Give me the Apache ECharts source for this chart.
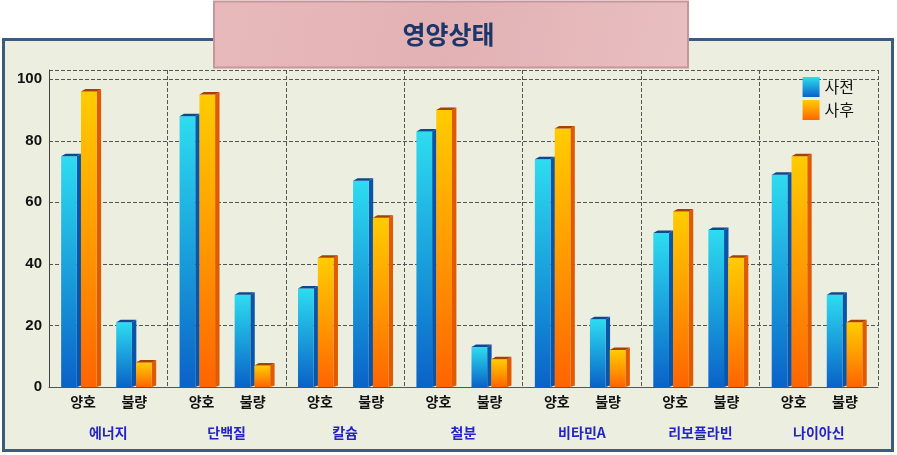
<!DOCTYPE html>
<html>
<head>
<meta charset="utf-8">
<script src="https://cdn.jsdelivr.net/npm/echarts@6/dist/echarts.min.js"></script>
<style>
html,body{margin:0;padding:0;background:#fff;}
#c{width:897px;height:455px;}
</style>
</head>
<body>
<div id="c"></div>
<script>
const groups = ['에너지','단백질','칼슘','철분','비타민A','리보플라빈','나이아신'];
const statuses = ['양호','불량'];
const seriesNames = ['사전','사후'];
const before = [75, 21, 88, 30, 32, 67, 83, 13, 74, 22, 50, 51, 69, 30];
const after  = [96, 8, 95, 7, 42, 55, 90, 9, 84, 12, 57, 42, 75, 21];
const yTicks = [0, 20, 40, 60, 80, 100];

const categories = [];
groups.forEach(() => statuses.forEach(s => categories.push(s)));

const G = echarts.graphic;
const styles = [
  { front: new G.LinearGradient(0,0,0,1,[{offset:0,color:'#2edcf0'},{offset:0.5,color:'#1aa0dc'},{offset:1,color:'#0a62c8'}]),
    side: '#0a55a8', top: '#0b4a90' },
  { front: new G.LinearGradient(0,0,0,1,[{offset:0,color:'#ffcc00'},{offset:0.5,color:'#ff9a00'},{offset:1,color:'#ff6400'}]),
    side: '#e05a00', top: '#a84000' }
];

function makeRender(si) {
  return function (params, api) {
    const idx = api.value(0);
    const v = api.value(1);
    const top = api.coord([idx, v]);
    const bot = api.coord([idx, 0]);
    const cw = api.size([1, 0])[0];
    const fw = cw * 0.265;
    const d = cw * 0.075;
    const r = 2.5;
    // pull the pair slightly toward the group centre
    const shift = (idx % 2 === 0) ? cw * 0.035 : -cw * 0.035;
    const cx = top[0] + shift;
    const x0 = si === 0 ? cx - cw * 0.33 : cx + cw * 0.005;
    const x1 = x0 + fw;
    const yt = top[1], yb = bot[1];
    const st = styles[si];
    return {
      type: 'group',
      children: [
        { type: 'polygon', shape: { points: [[x1, yt], [x1 + d, yt - r], [x1 + d, yb - r + 1], [x1, yb]] },
          style: { fill: st.side } },
        { type: 'rect', shape: { x: x0, y: yt, width: fw, height: yb - yt },
          style: { fill: st.front } },
        { type: 'polygon', shape: { points: [[x0, yt], [x0 + d, yt - r], [x1 + d, yt - r], [x1, yt]] },
          style: { fill: st.top } }
      ]
    };
  };
}

const chart = echarts.init(document.getElementById('c'));
chart.setOption({
  animation: false,
  backgroundColor: '#ffffff',
  graphic: [
    { type: 'rect', z: -10, shape: { x: 3.5, y: 39.5, width: 889, height: 411 },
      style: { fill: '#ecefe0', stroke: '#3d5a80', lineWidth: 3 } },
    { type: 'rect', z: 10, shape: { x: 214, y: 1.5, width: 474, height: 66 },
      style: { fill: new G.LinearGradient(0,0,1,1,[{offset:0,color:'#e8b9bb'},{offset:0.5,color:'#e2b1b4'},{offset:1,color:'#e9bfc1'}]),
               stroke: '#c8959a', lineWidth: 2 } },
    { type: 'text', z: 11, left: 'center', top: 22,
      style: { text: '영양상태', fill: '#1b3668', font: 'bold 25px "Noto Sans CJK KR"' } }
  ],
  legend: {
    right: 38, top: 72, orient: 'vertical', itemWidth: 17, itemHeight: 20, itemGap: 3,
    icon: 'rect',
    textStyle: { fontSize: 16, color: '#111', fontFamily: 'Noto Sans CJK KR' },
    data: seriesNames
  },
  grid: { left: 49, right: 19, top: 70, bottom: 68 },
  xAxis: [
    { type: 'category', data: categories, position: 'bottom',
      axisLine: { show: true, lineStyle: { color: '#555', width: 1 } },
      axisTick: { show: false },
      splitLine: { show: false },
      axisLabel: { interval: 0, margin: 8, color: '#111', fontSize: 14, fontWeight: 'bold',
                   fontFamily: 'Noto Sans CJK KR',
                   formatter: (v, i) => (i % 2 === 0 ? '{a|' + v + '}' : '{b|' + v + '}'),
                   rich: {
                     a: { padding: [0, 0, 0, 9], color: '#111', fontSize: 14, fontWeight: 'bold', fontFamily: 'Noto Sans CJK KR' },
                     b: { padding: [0, 7, 0, 0], color: '#111', fontSize: 14, fontWeight: 'bold', fontFamily: 'Noto Sans CJK KR' }
                   } } },
    { type: 'category', data: groups, position: 'bottom', offset: 30,
      axisLine: { show: false }, axisTick: { show: false },
      splitLine: { show: true, lineStyle: { color: '#555', type: 'dashed', width: 1 } },
      axisLabel: { interval: 0, margin: 9, color: '#2323c8', fontSize: 14, fontWeight: 'bold',
                   fontFamily: 'Noto Sans CJK KR' } }
  ],
  yAxis: {
    type: 'value', min: 0, max: 103, interval: 20,
    axisLine: { show: true, lineStyle: { color: '#444' } },
    axisTick: { show: false },
    splitLine: { show: true, lineStyle: { color: '#555', type: 'dashed', width: 1 } },
    axisLabel: { showMaxLabel: false, margin: 7, color: '#111', fontSize: 15, fontWeight: 'bold',
                 fontFamily: 'Liberation Sans',
                 formatter: v => (yTicks.indexOf(v) >= 0 ? String(v) : '') }
  },
  series: [
    { name: seriesNames[0], type: 'custom', xAxisIndex: 0, renderItem: makeRender(0),
      itemStyle: { color: styles[0].front },
      encode: { x: 0, y: 1 }, data: before.map((v, i) => [i, v]) },
    { name: seriesNames[1], type: 'custom', xAxisIndex: 0, renderItem: makeRender(1),
      itemStyle: { color: styles[1].front },
      encode: { x: 0, y: 1 }, data: after.map((v, i) => [i, v]) }
  ]
});
</script>
</body>
</html>
